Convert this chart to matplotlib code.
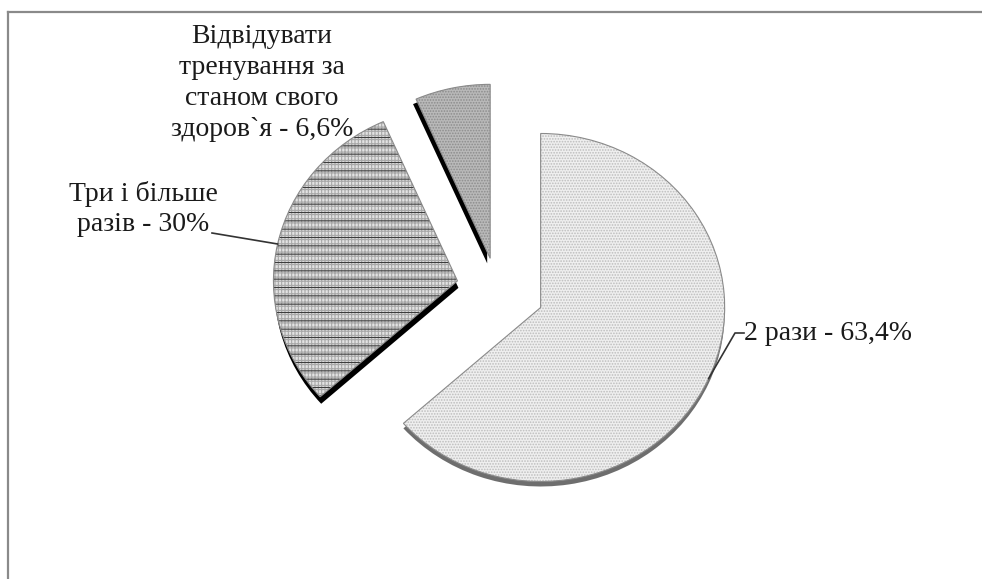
import numpy as np
import matplotlib.pyplot as plt

# дані
labels = ['2 рази - 63,4%', 'Три і більше\nразів - 30%',
          'Відвідувати\nтренування за\nстаном свого\nздоров`я - 6,6%']
values = [63.4, 30.0, 6.6]
explode = [0.26, 0.22, 0.18]

face_colors = ['#efefef', '#e2e2e2', '#b9b9b9']
hatch_colors = ['#bdbdbd', '#3c3c3c', '#8c8c8c']
hatches = ['......', '--', '......']
shadow_colors = ['#6e6e6e', '#000000', '#000000']
shadow_shift = [(0, 5), (1, 7), (-3, 5)]  # пікселі

W, H = 982, 579
fig = plt.figure(figsize=(W / 100, H / 100), dpi=100)
ax = fig.add_axes([0, 0, 1, 1])

RX, RY = 184.0, 174.0  # радіуси у пікселях (трохи нахилений круг)
cx, cy = 497.0, 289.0

plt.rcParams['hatch.linewidth'] = 0.8
common = dict(explode=explode, startangle=90, counterclock=False, radius=1.0)

# "товщина" 3D — тінь під секторами
sw, _ = ax.pie(values, colors=shadow_colors, wedgeprops=dict(linewidth=0), **common)
for w, (dx, dy) in zip(sw, shadow_shift):
    w.set_center((w.center[0] + dx / RX, w.center[1] - dy / RY))
# основні сектори
wedges, _ = ax.pie(values, colors=face_colors, wedgeprops=dict(linewidth=0), **common)
# світла сітка для сектора 30%
vw, _ = ax.pie(values, colors=['none'] * 3, wedgeprops=dict(linewidth=0), **common)
vw[0].set_visible(False)
vw[2].set_visible(False)
vw[1].set_hatch('|||||----')
vw[1].set_edgecolor('#a8a8a8')
# штрихування
hw, _ = ax.pie(values, colors=['none'] * 3, wedgeprops=dict(linewidth=0), **common)
for w, h, c in zip(hw, hatches, hatch_colors):
    w.set_hatch(h)
    w.set_edgecolor(c)
    w.set_facecolor('none')
# контур
ax.pie(values, colors=['none'] * 3,
       wedgeprops=dict(linewidth=0.8, edgecolor='#8a8a8a', fill=False), **common)

ax.set_xlim(-cx / RX, (W - cx) / RX)
ax.set_ylim(-(H - cy) / RY, cy / RY)
ax.set_aspect('auto')
ax.axis('off')


def px(x, y):
    return ax.transData.inverted().transform((x, H - y))


def arc_mid(w):
    a = np.deg2rad((w.theta1 + w.theta2) / 2)
    return w.center[0] + w.r * np.cos(a), w.center[1] + w.r * np.sin(a)


font = dict(family=['Liberation Serif', 'DejaVu Serif'], fontsize=20, color='#1a1a1a')

# підпис 63,4%
a0 = arc_mid(wedges[0])
e0 = px(735, 333)
e1 = px(744, 333)
ax.plot([a0[0], e0[0], e1[0]], [a0[1], e0[1], e1[1]], color='#333333', lw=1.2)
ax.text(*px(744, 333), labels[0], ha='left', va='center', **font)

# підпис 30%
a1 = arc_mid(wedges[1])
s1 = px(212, 233)
ax.plot([s1[0], a1[0]], [s1[1], a1[1]], color='#333333', lw=1.2)
ax.text(*px(143, 209), labels[1], ha='center', va='center',
        linespacing=1.3, **font)

# підпис 6,6%
ax.text(*px(262, 83), labels[2], ha='center', va='center',
        linespacing=1.3, **font)

# рамка (верх і ліво)
fig.add_artist(plt.Line2D([8 / W, 1], [1 - 12 / H, 1 - 12 / H],
                          color='#8a8a8a', lw=1.6, transform=fig.transFigure))
fig.add_artist(plt.Line2D([8 / W, 8 / W], [0, 1 - 12 / H],
                          color='#8a8a8a', lw=1.6, transform=fig.transFigure))

fig.savefig('out.png', dpi=100)
